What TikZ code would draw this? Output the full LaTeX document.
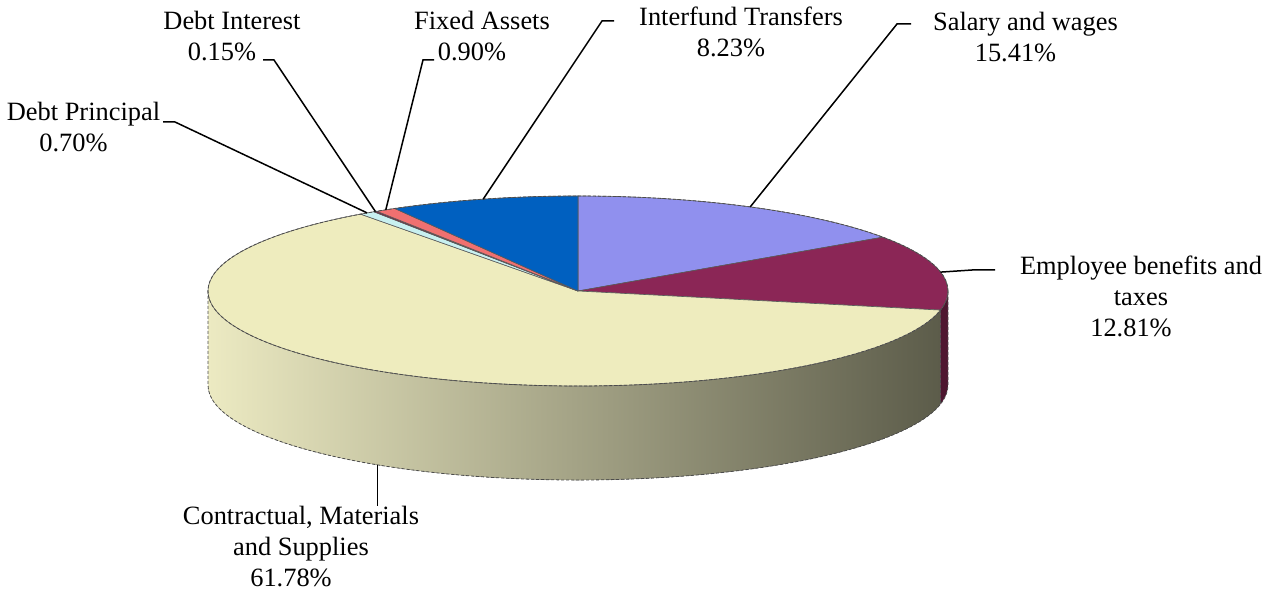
\documentclass[tikz,border=0pt]{standalone}
\usepackage{fontspec}
\setmainfont{Liberation Serif}
\definecolor{cSal}{RGB}{144,144,238}
\definecolor{cEmp}{RGB}{139,38,86}
\definecolor{cEmpS}{RGB}{78,22,48}
\definecolor{cCon}{RGB}{238,236,190}
\definecolor{cConL}{RGB}{236,234,194}
\definecolor{cConM}{RGB}{192,190,148}
\definecolor{cConR}{RGB}{92,92,74}
\definecolor{cInt}{RGB}{0,96,192}
\definecolor{cFix}{RGB}{240,112,112}
\definecolor{cDI}{RGB}{128,32,64}
\definecolor{cDP}{RGB}{200,240,240}
\newcommand{\lblshift}[1]{#1\hspace*{20pt}}
\begin{document}
\begin{tikzpicture}[x=1pt,y=-1pt,
  lab/.style={align=center, font=\fontsize{26.4}{31}\selectfont, inner sep=0pt},
  leader/.style={draw=black, line width=1.5pt},
  edge/.style={draw=black!70, line width=0.8pt, densely dashed},
  slice/.style={draw=black!65, line width=0.6pt}]
\useasboundingbox (0,0) rectangle (1267,593);
\fill[white] (0,0) rectangle (1267,593);

\begin{scope}[shift={(578,291)}, yscale=-1]
  % front side
  \fill[left color=cConL, middle color=cConM, right color=cConR]
    (-370,0) arc[start angle=180, end angle=348.408, x radius=370, y radius=95]
    -- ++(0,-94) arc[start angle=348.408, end angle=180, x radius=370, y radius=95] -- cycle;
  \fill[cEmpS]
    ({370*cos(348.408)},{95*sin(348.408)}) arc[start angle=348.408, end angle=360, x radius=370, y radius=95]
    -- ++(0,-94) arc[start angle=360, end angle=348.408, x radius=370, y radius=95] -- cycle;
  \draw[edge] (-370,0) -- (-370,-94)
    arc[start angle=180, end angle=360, x radius=370, y radius=95] -- (370,0);
  \draw[edge] ({370*cos(348.408)},{95*sin(348.408)}) -- ++(0,-94);
  % top slices
  \filldraw[slice, fill=cSal] (0,0) -- (0,95) arc[start angle=90, end angle=34.524, x radius=370, y radius=95] -- cycle;
  \filldraw[slice, fill=cEmp] (0,0) -- ({370*cos(34.524)},{95*sin(34.524)}) arc[start angle=34.524, end angle=-11.592, x radius=370, y radius=95] -- cycle;
  \filldraw[slice, fill=cCon] (0,0) -- ({370*cos(348.408)},{95*sin(348.408)}) arc[start angle=348.408, end angle=126, x radius=370, y radius=95] -- cycle;
  \filldraw[slice, fill=cDP] (0,0) -- ({370*cos(126)},{95*sin(126)}) arc[start angle=126, end angle=123.48, x radius=370, y radius=95] -- cycle;
  \filldraw[slice, fill=cDI] (0,0) -- ({370*cos(123.48)},{95*sin(123.48)}) arc[start angle=123.48, end angle=122.94, x radius=370, y radius=95] -- cycle;
  \filldraw[slice, fill=cFix] (0,0) -- ({370*cos(122.94)},{95*sin(122.94)}) arc[start angle=122.94, end angle=119.7, x radius=370, y radius=95] -- cycle;
  \filldraw[slice, fill=cInt] (0,0) -- ({370*cos(119.7)},{95*sin(119.7)}) arc[start angle=119.7, end angle=90, x radius=370, y radius=95] -- cycle;
  \draw[edge] (0,0) ellipse[x radius=370, y radius=95];
  % leader targets
  \coordinate (pSW) at ({370*cos(62.26)},{95*sin(62.26)});
  \coordinate (pEB) at ({370*cos(11.47)},{95*sin(11.47)});
  \coordinate (pIT) at ({370*cos(104.85)},{95*sin(104.85)});
  \coordinate (pFA) at ({370*cos(121.3)},{95*sin(121.3)});
  \coordinate (pDI) at ({370*cos(123.2)},{95*sin(123.2)});
  \coordinate (pDP) at ({370*cos(124.74)},{95*sin(124.74)});
  \coordinate (pCM) at ({370*cos(237.2)},{95*sin(237.2)-94});
\end{scope}

% labels
\node[lab] (labDP) at (83.5,127) {Debt Principal\\\lblshift{0.70\%}};
\node[lab] (labDI) at (232,36) {Debt Interest\\\lblshift{0.15\%}};
\node[lab] (labFA) at (482,36) {Fixed Assets\\\lblshift{0.90\%}};
\node[lab] (labIT) at (741,32) {Interfund Transfers\\\lblshift{8.23\%}};
\node[lab] (labSW) at (1025.5,37) {Salary and wages\\\lblshift{15.41\%}};
\node[lab] (labEB) at (1141,296) {Employee benefits and\\\lblshift{taxes}\\\lblshift{12.81\%}};
\node[lab] (labCM) at (301,547) {Contractual, Materials\\\lblshift{and Supplies}\\\lblshift{61.78\%}};

% leader bends
\coordinate (aDP) at (163,122); \coordinate (bDP) at (175,122);
\coordinate (aDI) at (263,60);  \coordinate (bDI) at (274,60);
\coordinate (aFA) at (434,60);  \coordinate (bFA) at (423,60);
\coordinate (aIT) at (614,21);  \coordinate (bIT) at (602,21);
\coordinate (aSW) at (911,24);  \coordinate (bSW) at (897,24);
\coordinate (aEB) at (995,270); \coordinate (bEB) at (972,270);

\draw[leader] (aDP) -- (bDP) -- (pDP);
\draw[leader] (aDI) -- (bDI) -- (pDI);
\draw[leader] (aFA) -- (bFA) -- (pFA);
\draw[leader] (aIT) -- (bIT) -- (pIT);
\draw[leader] (aSW) -- (bSW) -- (pSW);
\draw[leader] (aEB) -- (bEB) -- (pEB);
\draw[leader] (pCM) -- (pCM |- labCM.north);
\end{tikzpicture}
\end{document}
